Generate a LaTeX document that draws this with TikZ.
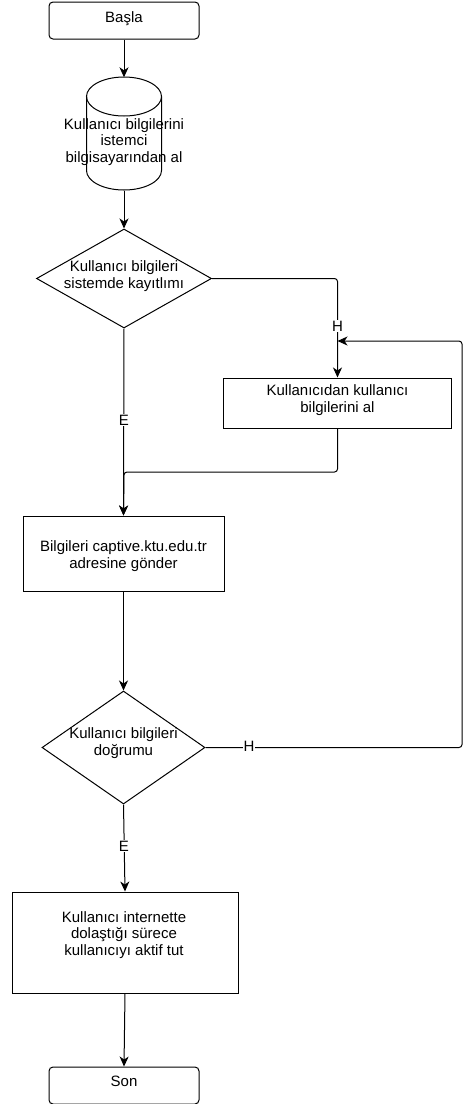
\documentclass[tikz,border=0pt]{standalone}
\usepackage{fontspec}
\setmainfont{Liberation Sans}
\usetikzlibrary{shapes.geometric,arrows.meta}
\begin{document}
\begin{tikzpicture}[x=1pt,y=-1pt,
  every node/.style={font=\fontsize{15}{16.4}\selectfont, align=center, inner sep=0pt},
  shp/.style={draw=black, line width=1pt, fill=white},
  term/.style={shp, rounded corners=4pt},
  proc/.style={shp, rectangle},
  dia/.style={shp, diamond},
  lbl/.style={fill=white, inner sep=1pt},
  conn/.style={draw=black, line width=1pt, rounded corners=3pt},
  arr/.style={conn, -{Stealth[length=10pt,width=9pt,inset=3pt]}}
]
\useasboundingbox (0,0) rectangle (465,1104);

% nodes
\node[term, minimum width=150pt, minimum height=37pt] (start) at (124,20.5) {};
\node (startt) at (124,19) {Başla};

\node[minimum width=75pt, minimum height=113pt] (cyl) at (124,134) {};
\fill[white] (86.5,96.5) rectangle (161.5,170.5);
\draw[line width=1pt, fill=white] (86.5,96.5) -- (86.5,170.5) arc[start angle=180, end angle=0, x radius=37.5, y radius=19.5] -- (161.5,96.5);
\draw[line width=1pt] (124,96.5) ellipse [x radius=37.5, y radius=19.5];
\node (cylt) at (124,142) {Kullanıcı bilgilerini\\istemci\\bilgisayarından al};

\node[dia, minimum width=175pt, minimum height=99pt] (d1) at (124,278.5) {};
\node (d1t) at (124,276) {Kullanıcı bilgileri\\sistemde kayıtlımı};

\node[proc, minimum width=228pt, minimum height=50pt] (b1) at (337.5,403) {};
\node (b1t) at (337.5,400) {Kullanıcıdan kullanıcı\\bilgilerini al};

\node[proc, minimum width=201pt, minimum height=75pt] (b2) at (123.5,553.5) {};
\node (b2t) at (123.5,556) {Bilgileri captive.ktu.edu.tr\\adresine gönder};

\node[dia, minimum width=163pt, minimum height=113pt] (d2) at (123.5,747.5) {};
\node (d2t) at (123.5,743) {Kullanıcı bilgileri\\doğrumu};

\node[proc, minimum width=226pt, minimum height=101pt] (b3) at (125,942.5) {};
\node (b3t) at (124,935) {Kullanıcı internette\\dolaştığı sürece\\kullanıcıyı aktif tut};

\node[term, minimum width=150pt, minimum height=37pt] (son) at (124,1085.5) {};
\node (sont) at (124,1081) {Son};

% connectors
\coordinate (j) at (337.5,341);
\draw[arr] (start.south) -- (cyl.north);
\draw[arr] (cyl.south) -- (d1.north);
\draw[arr] (d1.east) -- (337.5,278.5) -- (b1.north);
\node[lbl] (h1) at (337.5,326) {H};
\draw[arr] (d1.south) -- (b2.north);
\node[lbl] (e1) at (124,420) {E};
\draw[arr] (b1.south) -- (337.5,472) -- (124,472) -- (b2.north);
\draw[arr] (b2.south) -- (d2.north);
\draw[arr] (d2.east) -- (462,747.5) -- (462,341) -- (j);
\node[lbl] (h2) at (249,746) {H};
\draw[arr] (d2.south) -- (b3.north);
\node[lbl] (e2) at (124,846) {E};
\draw[arr] (b3.south) -- (son.north);
\end{tikzpicture}
\end{document}
